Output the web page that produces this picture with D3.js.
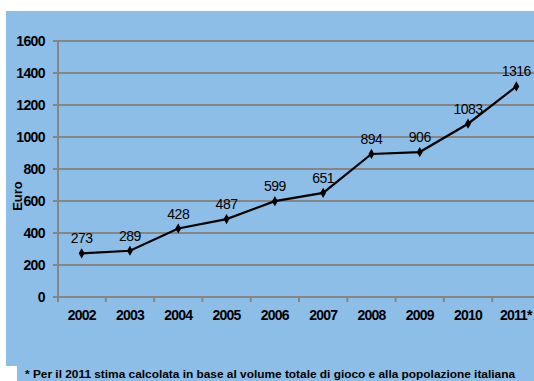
<!DOCTYPE html>
<html>
<head>
<meta charset="utf-8">
<script src="https://cdn.jsdelivr.net/npm/d3@7"></script>
<style>
  body { margin: 0; background: #fff; }
  svg { display: block; }
</style>
</head>
<body>
<svg id="chart" width="534" height="381"></svg>
<script>
const years = ["2002", "2003", "2004", "2005", "2006", "2007", "2008", "2009", "2010", "2011*"]
const values = [273, 289, 428, 487, 599, 651, 894, 906, 1083, 1316]
const yTicks = [0, 200, 400, 600, 800, 1000, 1200, 1400, 1600]
const footnote = "* Per il 2011 stima calcolata in base al volume totale di gioco e alla popolazione italiana"

const svg = d3.select("#chart")
const font = "'Liberation Sans', Arial, sans-serif"

// background panels
svg.append("rect")
  .attr("x", 6).attr("y", 11)
  .attr("width", 528).attr("height", 355)
  .attr("fill", "#8dbee8")
svg.append("rect")
  .attr("x", 17).attr("y", 366)
  .attr("width", 517).attr("height", 15)
  .attr("fill", "#8dbee8")

const x = d3.scaleBand().domain(years).range([57.5, 540.5])
const y = d3.scaleLinear().domain([0, 1600]).range([297, 41])

// gridlines + y labels
const yAxis = svg.append("g")
yAxis.selectAll("line")
  .data(yTicks)
  .enter()
  .append("line")
  .attr("x1", 53).attr("x2", 540)
  .attr("y1", d => y(d)).attr("y2", d => y(d))
  .attr("stroke", "#858585")
  .attr("stroke-width", 2)
yAxis.selectAll("text")
  .data(yTicks)
  .enter()
  .append("text")
  .text(d => d)
  .attr("x", 45)
  .attr("y", d => y(d) + 5)
  .attr("text-anchor", "end")
  .attr("font-family", font)
  .attr("font-size", 14)
  .attr("font-weight", "bold")
  .attr("letter-spacing", -0.6)

// y axis line
svg.append("line")
  .attr("x1", 58).attr("x2", 58)
  .attr("y1", 41).attr("y2", 302)
  .attr("stroke", "#858585")
  .attr("stroke-width", 2)

// x ticks and labels
const xAxis = svg.append("g")
xAxis.selectAll("line")
  .data(years)
  .enter()
  .append("line")
  .attr("x1", d => x(d) + x.bandwidth())
  .attr("x2", d => x(d) + x.bandwidth())
  .attr("y1", 297).attr("y2", 302)
  .attr("stroke", "#858585")
  .attr("stroke-width", 2)
xAxis.selectAll("text")
  .data(years)
  .enter()
  .append("text")
  .text(d => d)
  .attr("x", d => x(d) + x.bandwidth() / 2 + (d.endsWith("*") ? -0.5 : 0))
  .attr("y", 320)
  .attr("text-anchor", "middle")
  .attr("font-family", font)
  .attr("font-size", 14)
  .attr("font-weight", "bold")
  .attr("letter-spacing", -0.8)

// axis title
svg.append("text")
  .text("Euro")
  .attr("transform", "translate(22, 196) rotate(-90)")
  .attr("text-anchor", "middle")
  .attr("font-family", font)
  .attr("font-size", 13)
  .attr("font-weight", "bold")

// series line
const cx = (d, i) => x(years[i]) + x.bandwidth() / 2
const line = d3.line()
  .x(cx)
  .y(d => y(d))
svg.append("path")
  .datum(values)
  .attr("d", line)
  .attr("fill", "none")
  .attr("stroke", "#000")
  .attr("stroke-width", 2.2)

svg.selectAll(".marker")
  .data(values)
  .enter()
  .append("path")
  .attr("class", "marker")
  .attr("d", d3.symbol(d3.symbolDiamond, 30))
  .attr("transform", (d, i) => `translate(${cx(d, i)},${y(d)})`)
  .attr("fill", "#000")

svg.selectAll(".val")
  .data(values)
  .enter()
  .append("text")
  .attr("class", "val")
  .text(d => d)
  .attr("x", cx)
  .attr("y", d => y(d) - 10)
  .attr("text-anchor", "middle")
  .attr("font-family", font)
  .attr("font-size", 14)
  .attr("letter-spacing", -0.5)

// footnote
svg.append("text")
  .text(footnote)
  .attr("x", 25)
  .attr("y", 377.5)
  .attr("font-family", font)
  .attr("font-size", 11.5)
  .attr("font-weight", "bold")
  .attr("textLength", 490)
  .attr("lengthAdjust", "spacingAndGlyphs")
</script>
</body>
</html>
